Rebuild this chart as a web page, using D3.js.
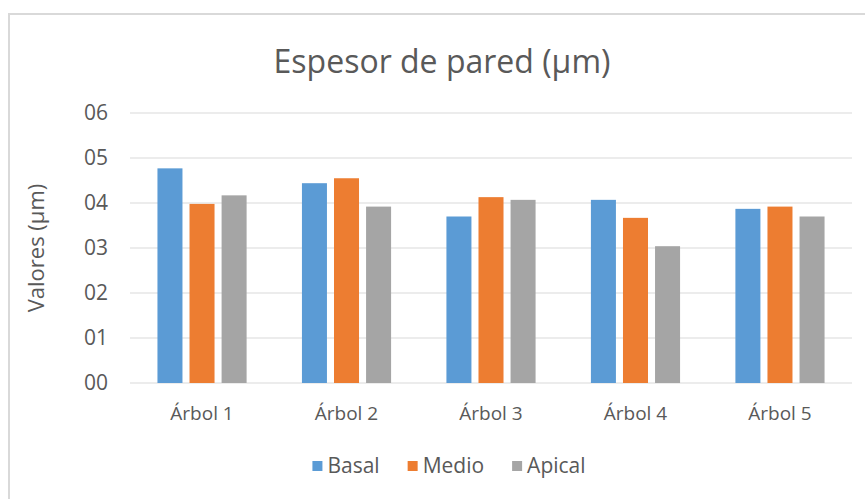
<!DOCTYPE html>
<html>
<head>
<meta charset="utf-8">
<script src="https://cdn.jsdelivr.net/npm/d3@7"></script>
<style>
  body { margin: 0; background: #fff; }
  svg { display: block; }
  text { font-family: "Open Sans", "Liberation Sans", sans-serif; fill: #595959; }
</style>
</head>
<body>
<svg id="chart" width="865" height="499"></svg>
<script>
// Datos
const categorias = ["Árbol 1", "Árbol 2", "Árbol 3", "Árbol 4", "Árbol 5"];
const series = ["Basal", "Medio", "Apical"];
const basal  = [4.77, 4.44, 3.70, 4.07, 3.87];
const medio  = [3.98, 4.55, 4.13, 3.67, 3.92];
const apical = [4.17, 3.92, 4.07, 3.04, 3.70];
const colores = ["#5B9BD5", "#ED7D31", "#A5A5A5"];
const ticks = [0, 1, 2, 3, 4, 5, 6];
const tickLabels = ["00", "01", "02", "03", "04", "05", "06"];

const valores = [basal, medio, apical];

const svg = d3.select("#chart");
const width = 865, height = 499;

// Marco del gráfico
svg.append("rect")
    .attr("x", 9).attr("y", 14)
    .attr("width", width + 20).attr("height", height)
    .attr("fill", "none")
    .attr("stroke", "#D9D9D9")
    .attr("stroke-width", 2);

// Escalas
const y = d3.scaleLinear().domain([0, 6]).range([383, 113]);
const x0 = d3.scaleBand().domain(categorias).range([130, 852])
    .paddingInner(0.383).paddingOuter(0.19);
const x1 = d3.scaleBand().domain(series).range([0, x0.bandwidth()])
    .paddingInner(0.22);

// Título
svg.append("text")
    .attr("x", 442).attr("y", 73)
    .attr("text-anchor", "middle")
    .style("font-size", "32px")
    .text("Espesor de pared (µm)");

// Líneas de cuadrícula
svg.append("g")
    .selectAll("line")
    .data(ticks)
    .join("line")
    .attr("x1", 130).attr("x2", 852)
    .attr("y1", d => y(d)).attr("y2", d => y(d))
    .attr("stroke", "#D9D9D9")
    .attr("stroke-width", 1);

// Etiquetas eje Y
svg.append("g")
    .selectAll("text")
    .data(ticks)
    .join("text")
    .attr("x", 108)
    .attr("y", d => y(d))
    .attr("dy", "0.35em")
    .attr("text-anchor", "end")
    .style("font-size", "21px")
    .text((d, i) => tickLabels[i]);

// Título eje Y
svg.append("text")
    .attr("transform", "translate(36,248) rotate(-90)")
    .attr("text-anchor", "middle")
    .attr("dy", "0.35em")
    .style("font-size", "22px")
    .text("Valores (µm)");

// Barras
const grupos = svg.append("g")
    .selectAll("g")
    .data(categorias)
    .join("g")
    .attr("transform", d => `translate(${x0(d)},0)`);

grupos.selectAll("rect")
    .data((d, i) => series.map((s, j) => ({serie: s, valor: valores[j][i], color: colores[j]})))
    .join("rect")
    .attr("x", d => x1(d.serie))
    .attr("width", x1.bandwidth())
    .attr("y", d => y(d.valor))
    .attr("height", d => y(0) - y(d.valor))
    .attr("fill", d => d.color);

// Etiquetas categorías
svg.append("g")
    .selectAll("text")
    .data(categorias)
    .join("text")
    .attr("x", d => x0(d) + x0.bandwidth() / 2)
    .attr("y", 420)
    .attr("text-anchor", "middle")
    .style("font-size", "19px")
    .text(d => d);

// Leyenda (centrada)
const leyenda = svg.append("g");
let cursor = 0;
series.forEach((s, j) => {
    const item = leyenda.append("g").attr("transform", `translate(${cursor},0)`);
    item.append("rect")
        .attr("x", 0).attr("y", -5)
        .attr("width", 10).attr("height", 10)
        .attr("fill", colores[j]);
    const t = item.append("text")
        .attr("x", 15)
        .attr("dy", "0.35em")
        .style("font-size", "21px")
        .text(s);
    cursor += 15 + t.node().getComputedTextLength() + 28;
});
const totalLeyenda = cursor - 28;
leyenda.attr("transform", `translate(${449 - totalLeyenda / 2},466)`);
</script>
</body>
</html>
